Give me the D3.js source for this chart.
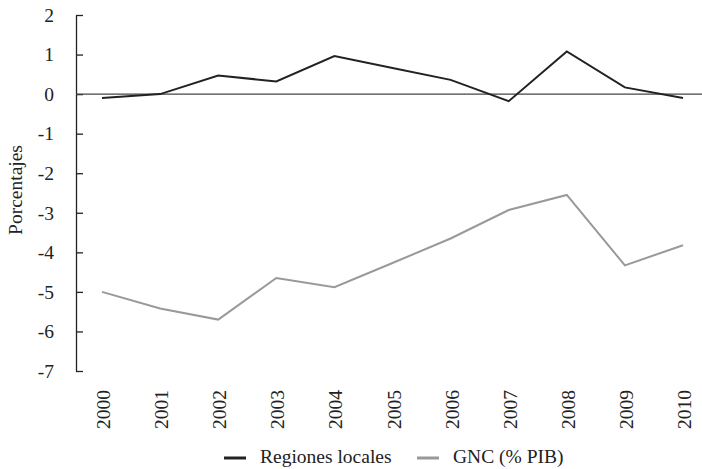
<!DOCTYPE html>
<html>
<head>
<meta charset="utf-8">
<script src="https://cdn.jsdelivr.net/npm/d3@7"></script>
<style>
  body { margin: 0; background: #fff; }
</style>
</head>
<body>
<script>
let width = 702,
    height = 469

// data
const years = [2000, 2001, 2002, 2003, 2004, 2005, 2006, 2007, 2008, 2009, 2010]
const regiones = [-0.1, 0.0, 0.47, 0.32, 0.96, 0.66, 0.36, -0.18, 1.08, 0.17, -0.1]
const gnc = [-5.0, -5.42, -5.7, -4.65, -4.88, -4.27, -3.65, -2.93, -2.55, -4.33, -3.82]
const yTicks = [2, 1, 0, -1, -2, -3, -4, -5, -6, -7]
const seriesNames = ['Regiones locales', 'GNC (% PIB)']

const colors = ['#222222', '#999999']
const serif = "'Liberation Serif', 'DejaVu Serif', serif"
const fontSize = 19.5

let svg = d3.select('body').append('svg')
    .attr('width', width)
    .attr('height', height)
    .attr('font-family', serif)
    .attr('font-size', fontSize)

const x = d3.scalePoint().domain(years).range([102, 683])
const y = d3.scaleLinear().domain([-7, 2]).range([371, 15])

// y axis, ticks point inward
let yAxis = svg.append('g')
    .attr('transform', 'translate(76,0)')
    .call(d3.axisLeft(y).tickValues(yTicks).tickFormat(d => String(d))
      .tickSize(-7).tickPadding(22).tickSizeOuter(0))
    .attr('font-family', serif)
    .attr('font-size', fontSize)
yAxis.select('.domain').attr('stroke', '#222').attr('stroke-width', 1.3)
yAxis.selectAll('.tick line').attr('stroke', '#222').attr('stroke-width', 1.3)
yAxis.selectAll('.tick text').attr('fill', '#222')

// zero line
svg.append('line')
    .attr('x1', 76).attr('x2', width)
    .attr('y1', y(0)).attr('y2', y(0))
    .attr('stroke', '#444')
    .attr('stroke-width', 1.2)

// year labels, rotated
svg.append('g').selectAll('text')
    .data(years)
    .join('text')
    .attr('transform', d => `translate(${x(d) + 8},390) rotate(-90)`)
    .attr('text-anchor', 'end')
    .attr('fill', '#222')
    .text(d => d)

// y label
svg.append('text')
    .attr('transform', 'translate(22,190) rotate(-90)')
    .attr('text-anchor', 'middle')
    .attr('fill', '#222')
    .text('Porcentajes')

const line = d3.line()
    .x((d, i) => x(years[i]))
    .y(d => y(d))

svg.append('path')
    .datum(gnc)
    .attr('d', line)
    .attr('fill', 'none')
    .attr('stroke', colors[1])
    .attr('stroke-width', 2)

svg.append('path')
    .datum(regiones)
    .attr('d', line)
    .attr('fill', 'none')
    .attr('stroke', colors[0])
    .attr('stroke-width', 2)

// legend
const legendX = [224, 417]
let legend = svg.append('g').selectAll('g')
    .data(seriesNames)
    .join('g')
    .attr('transform', (d, i) => `translate(${legendX[i]},458)`)
legend.append('line')
    .attr('x1', 0).attr('x2', 22)
    .attr('y1', 0).attr('y2', 0)
    .attr('stroke', (d, i) => colors[i])
    .attr('stroke-width', 3)
legend.append('text')
    .attr('x', 36)
    .attr('y', 5)
    .attr('fill', '#222')
    .text(d => d)
</script>
</body>
</html>
